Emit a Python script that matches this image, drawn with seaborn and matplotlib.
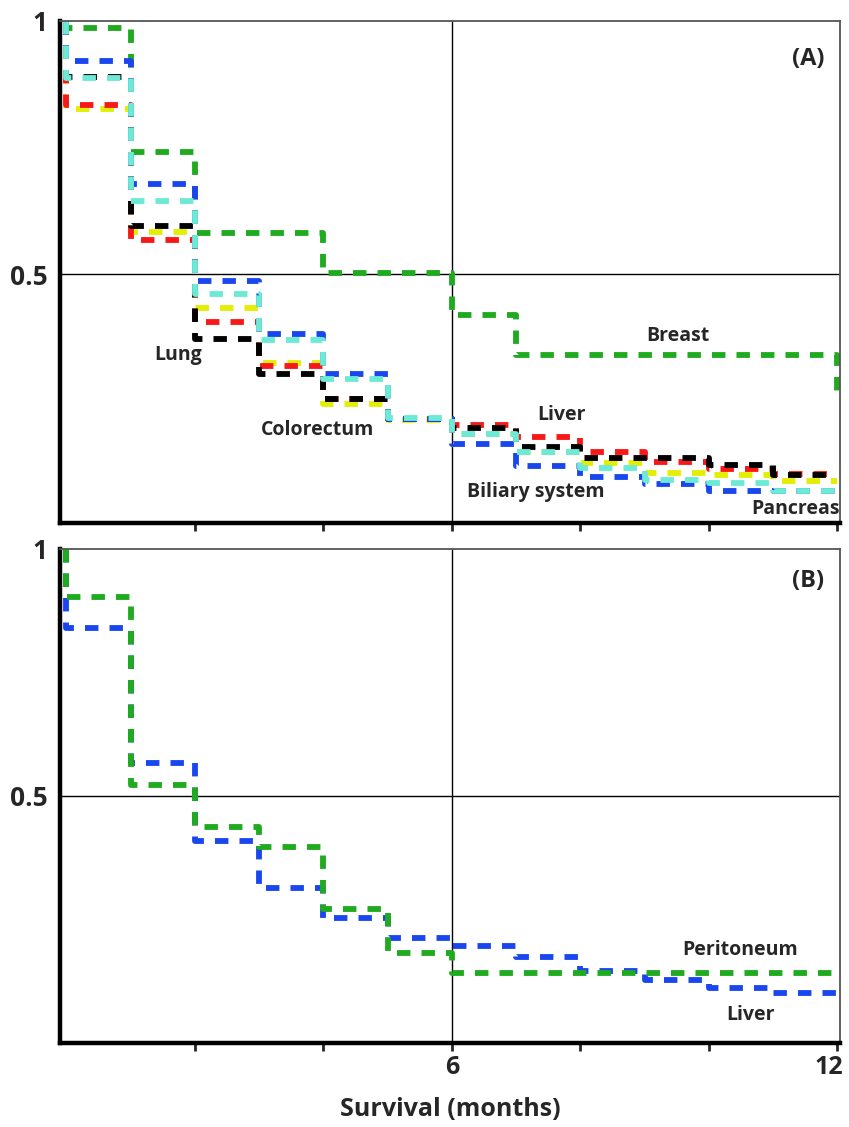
import pandas as pd
import seaborn as sns
import matplotlib.pyplot as plt
from matplotlib.transforms import ScaledTranslation

# month boundaries 0..12; each curve: survival in interval 0-1, 1-2, ... 11-12, then value at 12
months = list(range(13))

# panel A - primary tumour sites
breast = [0.986, 0.741, 0.581, 0.581, 0.502, 0.502, 0.419, 0.340, 0.340, 0.340, 0.340, 0.340, 0.265]
colorectum = [0.826, 0.583, 0.432, 0.325, 0.244, 0.211, 0.183, 0.149, 0.126, 0.107, 0.103, 0.092, 0.092]
liver_a = [0.834, 0.567, 0.406, 0.319, 0.253, 0.213, 0.202, 0.178, 0.148, 0.129, 0.114, 0.104, 0.104]
lung = [0.889, 0.595, 0.371, 0.302, 0.253, 0.213, 0.195, 0.159, 0.137, 0.136, 0.123, 0.103, 0.103]
biliary = [0.921, 0.678, 0.486, 0.381, 0.302, 0.213, 0.165, 0.121, 0.099, 0.086, 0.071, 0.071, 0.071]
pancreas = [0.887, 0.644, 0.460, 0.370, 0.292, 0.215, 0.183, 0.149, 0.116, 0.094, 0.088, 0.071, 0.071]

# panel B - metastatic site
liver_b = [0.840, 0.567, 0.408, 0.314, 0.252, 0.213, 0.196, 0.174, 0.146, 0.128, 0.111, 0.101, 0.101]
peritoneum = [0.903, 0.522, 0.438, 0.396, 0.271, 0.183, 0.142, 0.142, 0.142, 0.142, 0.142, 0.142, 0.142]

GREEN, BLUE, CYAN = '#1faa1f', '#1a46f0', '#6cead6'
RED, YELLOW, BLACK = '#f81818', '#e4ee00', '#000000'

curves_a = {'Breast': breast, 'Colorectum': colorectum, 'Liver': liver_a,
            'Lung': lung, 'Biliary system': biliary, 'Pancreas': pancreas}
colors_a = {'Breast': GREEN, 'Colorectum': YELLOW, 'Liver': RED,
            'Lung': BLACK, 'Biliary system': BLUE, 'Pancreas': CYAN}
curves_b = {'Liver': liver_b, 'Peritoneum': peritoneum}
colors_b = {'Liver': BLUE, 'Peritoneum': GREEN}


def km_frame(curves):
    # step curves start at 1.0 on month 0
    rows = []
    for site, surv in curves.items():
        xs = [0] + months
        ys = [1.0] + surv
        rows += [(site, x, y) for x, y in zip(xs, ys)]
    return pd.DataFrame(rows, columns=['site', 'month', 'survival'])


def draw_curves(ax, curves, colors):
    df = km_frame(curves)
    sns.lineplot(data=df, x='month', y='survival', hue='site',
                 hue_order=list(curves), palette=colors,
                 estimator=None, sort=False, drawstyle='steps-post',
                 linewidth=4.2, linestyle=(0, (2.3, 1.9)), legend=False, ax=ax)


def style_panel(ax, ylim, xlabels):
    ax.set_xlim(-0.1, 12.04)
    ax.set_ylim(*ylim)
    ax.axvline(6, color='black', lw=1, zorder=0)
    ax.axhline(0.5, color='black', lw=1, zorder=0)
    for side in ['left', 'bottom']:
        ax.spines[side].set_linewidth(3.2)
        ax.spines[side].set_color('black')
    for side in ['top', 'right']:
        ax.spines[side].set_visible(True)
        ax.spines[side].set_linewidth(1.3)
        ax.spines[side].set_color('#555555')
    ax.set_xticks([2, 4, 6, 8, 10, 12])
    ax.set_xticklabels(xlabels, fontsize=18, fontweight='bold')
    ax.set_yticks([0.5, 1])
    ax.set_yticklabels(['0.5', '1'], fontsize=19, fontweight='bold')
    ax.tick_params(axis='x', bottom=True, length=6, width=2, direction='out', pad=3)
    ax.tick_params(axis='y', left=False, length=0, pad=9)
    ax.set_xlabel('')
    ax.set_ylabel('')


sns.set_theme(style='ticks')
plt.rcParams['font.family'] = ['Open Sans', 'DejaVu Sans']

fig = plt.figure(figsize=(8.49, 11.27), dpi=100)
ax_a = fig.add_axes([0.0707, 0.5359, 0.9187, 0.4455])
ax_b = fig.add_axes([0.0707, 0.0746, 0.9187, 0.4383])

draw_curves(ax_a, curves_a, colors_a)
style_panel(ax_a, (0.008, 1.0), ['', '', '', '', '', ''])

draw_curves(ax_b, curves_b, colors_b)
style_panel(ax_b, (0.0, 1.0), ['', '', '6', '', '', '12'])
ax_b.set_xlabel('Survival (months)', fontsize=18, fontweight='bold', labelpad=12)

# the "12" sits against the right edge of the figure
last = ax_b.get_xticklabels()[-1]
last.set_transform(last.get_transform() + ScaledTranslation(-6 / 72, 0, fig.dpi_scale_trans))

label_kw = dict(ha='center', va='center', fontsize=14, fontweight='bold')
ax_a.text(11.54, 0.925, '(A)', **{**label_kw, 'fontsize': 17})
ax_a.text(1.74, 0.340, 'Lung', **label_kw)
ax_a.text(3.90, 0.192, 'Colorectum', **label_kw)
ax_a.text(7.70, 0.221, 'Liver', **label_kw)
ax_a.text(9.52, 0.377, 'Breast', **label_kw)
ax_a.text(7.31, 0.069, 'Biliary system', **label_kw)
ax_a.text(11.35, 0.036, 'Pancreas', **label_kw)

ax_b.text(11.54, 0.935, '(B)', **{**label_kw, 'fontsize': 17})
ax_b.text(10.48, 0.188, 'Peritoneum', **label_kw)
ax_b.text(10.64, 0.057, 'Liver', **label_kw)

fig.savefig('out.png', dpi=100)
